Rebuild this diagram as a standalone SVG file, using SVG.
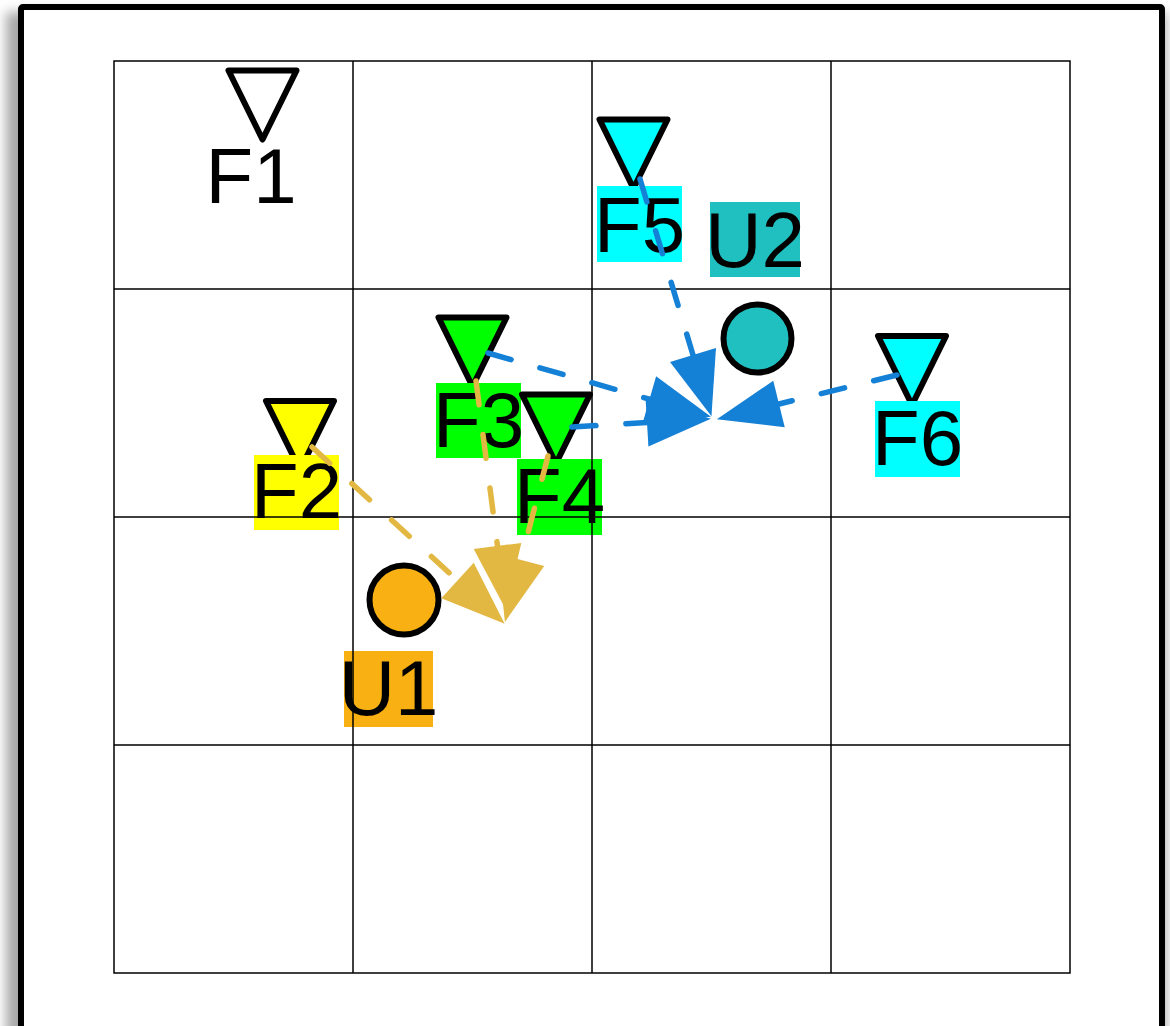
<svg xmlns="http://www.w3.org/2000/svg" xmlns:xlink="http://www.w3.org/1999/xlink" width="1170" height="1026" viewBox="0 0 1170 1026">
<style>
.tri{stroke:#000;stroke-width:6;stroke-linejoin:round}
.circ{stroke:#000;stroke-width:6}
.lbl{font-family:"Liberation Sans",Arial,sans-serif;font-size:78px;fill:#000;text-anchor:middle}
.grid{fill:none;stroke:#000;stroke-width:1.5}
.eb{fill:none;stroke:#1480D6;stroke-width:5.5;stroke-dasharray:24 30;stroke-linecap:round;marker-end:url(#ab)}
.eg{fill:none;stroke:#E2B843;stroke-width:5.5;stroke-dasharray:24 30;stroke-linecap:round;marker-end:url(#ag)}
</style>
<defs>
<filter id="sh" x="-0.05" y="-0.05" width="1.1" height="1.1"><feGaussianBlur stdDeviation="6"/></filter>
<polygon id="tri" points="-34,0 34,0 0,69"/>
<marker id="ab" markerUnits="userSpaceOnUse" viewBox="0 -24 64 48" refX="0" refY="0" markerWidth="64" markerHeight="48" orient="auto" overflow="visible"><path d="M0,-24 L64,0 L0,24 Z" fill="#1480D6"/></marker>
<marker id="ag" markerUnits="userSpaceOnUse" viewBox="0 -24 64 48" refX="0" refY="0" markerWidth="64" markerHeight="48" orient="auto" overflow="visible"><path d="M0,-24 L64,0 L0,24 Z" fill="#E2B843"/></marker>
</defs>
<rect x="6" y="12" width="1160" height="1040" fill="#a8a8a8" filter="url(#sh)"/>
<rect x="21" y="7" width="1141" height="1040" fill="#fff" stroke="#000" stroke-width="6" rx="2"/>

<g id="F1"><use xlink:href="#tri" x="262.5" y="70.5" class="tri" fill="#fff"/><text class="lbl" x="251" y="203">F1</text></g>
<g id="F2"><use xlink:href="#tri" x="300" y="401" class="tri" fill="#FFFF00"/><rect x="254" y="455" width="85" height="75" fill="#FFFF00"/><text class="lbl" x="296.5" y="518">F2</text></g>
<g id="F3"><use xlink:href="#tri" x="472.5" y="317.5" class="tri" fill="#00FF00"/><rect x="436" y="383" width="85" height="75" fill="#00FF00"/><text class="lbl" x="478.5" y="447">F3</text></g>
<g id="F4"><use xlink:href="#tri" x="556" y="394.5" class="tri" fill="#00FF00"/><rect x="517" y="459" width="85" height="76" fill="#00FF00"/><text class="lbl" x="559.5" y="523">F4</text></g>
<g id="F5"><use xlink:href="#tri" x="633.5" y="119.5" class="tri" fill="#00FFFF"/><rect x="597" y="186" width="85" height="76" fill="#00FFFF"/><text class="lbl" x="639.5" y="252">F5</text></g>
<g id="F6"><use xlink:href="#tri" x="912" y="336" class="tri" fill="#00FFFF"/><rect x="875" y="401" width="85" height="76" fill="#00FFFF"/><text class="lbl" x="917.5" y="465">F6</text></g>
<g id="U1"><circle class="circ" cx="404" cy="600" r="34.5" fill="#F8B012"/><rect x="344" y="651" width="89" height="76" fill="#F8B012"/><text class="lbl" x="388.5" y="715">U1</text></g>
<g id="U2"><circle class="circ" cx="757.5" cy="338.5" r="34" fill="#20C0C0"/><rect x="710" y="202" width="90" height="75" fill="#20C0C0"/><text class="lbl" x="755" y="267">U2</text></g>

<g id="grid" class="grid">
<rect x="114" y="61" width="956" height="912"/>
<path d="M353,61V973M592,61V973M831,61V973M114,289H1070M114,517H1070M114,745H1070"/>
</g>

<g id="connectors">
<path class="eb" d="M640,179 L693,355"/>
<path class="eb" d="M488,353 L649.5,399.2"/>
<path class="eb" d="M572,427 L647,422.5"/>
<path class="eb" d="M897,375 L779,404"/>
<path class="eg" d="M312,447 L457.5,580.5"/>
<path class="eg" d="M476,381 L497.5,546"/>
<path class="eg" d="M548,456 L521,560"/>
</g>
</svg>
